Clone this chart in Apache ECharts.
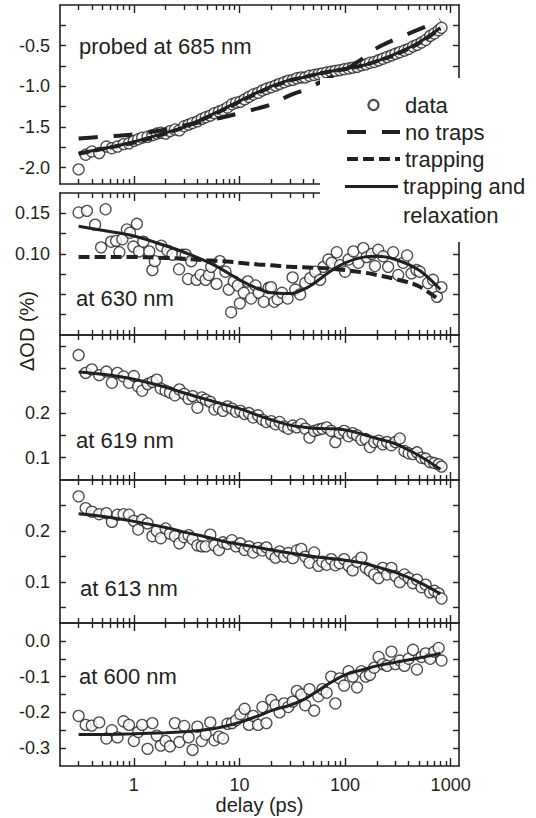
<!DOCTYPE html>
<html><head><meta charset="utf-8">
<script src="https://cdn.jsdelivr.net/npm/echarts@6/dist/echarts.min.js"></script>
<style>html,body{margin:0;padding:0;background:#fff}#c{width:536px;height:818px}</style>
</head><body><div id="c"></div>
<script>
// ---------- data ----------
const delays = [0.3,0.35,0.4,0.47,0.55,0.62,0.7,0.8,0.9,1.0,
1.1,1.2,1.35,1.5,1.65,1.8,2.0,2.2,2.45,2.7,
3.0,3.3,3.6,4.0,4.4,4.8,5.3,5.8,6.4,7.0,
7.7,8.5,9.3,10.2,11.2,12.3,13.5,15,16.5,18,
20,22,24,26.5,29,32,35,38.5,42,46,
51,56,61,67,74,81,89,98,108,118,
130,143,157,172,189,208,228,250,275,300,
330,365,400,440,480,530,580,640,700,770,820];

const od685 = [-2.02,-1.84,-1.80,-1.82,-1.74,-1.76,-1.74,-1.71,-1.70,-1.67,
-1.65,-1.63,-1.62,-1.60,-1.58,-1.57,-1.58,-1.55,-1.53,-1.54,
-1.49,-1.47,-1.45,-1.43,-1.40,-1.38,-1.36,-1.33,-1.31,-1.29,
-1.26,-1.22,-1.20,-1.19,-1.16,-1.13,-1.10,-1.08,-1.05,-1.03,
-1.01,-0.99,-0.97,-0.95,-0.93,-0.92,-0.90,-0.89,-0.89,-0.87,
-0.86,-0.85,-0.84,-0.83,-0.82,-0.81,-0.80,-0.79,-0.78,-0.77,
-0.76,-0.74,-0.73,-0.71,-0.70,-0.68,-0.66,-0.64,-0.62,-0.60,
-0.58,-0.56,-0.54,-0.51,-0.49,-0.46,-0.43,-0.38,-0.35,-0.31,-0.28];

const delays630 = [0.30,0.36,0.43,0.49,0.54,0.61,0.68,0.73,0.78,0.86,
0.92,0.99,1.07,1.12,1.23,1.40,1.50,1.58,1.82,2.08,
2.32,2.68,2.88,3.10,3.26,3.50,3.93,4.29,4.78,5.14,
5.40,6.07,6.52,7.38,7.93,8.35,8.84,9.65,10.1,11.0,
12.0,12.9,14.2,15.2,17.0,18.9,19.9,21.4,23.0,25.3,
28.6,31.9,33.8,37.6,42.0,46.8,52.1,58.1,62.5,69.6,
74.9,83.5,89.7,100,108,120,134,149,160,179,
192,206,230,256,286,319,355,387,426,475,
510,611,681,743,817];
const od630 = [0.151,0.153,0.136,0.108,0.155,0.115,0.116,0.102,0.118,0.130,
0.126,0.109,0.137,0.103,0.115,0.103,0.080,0.091,0.110,0.104,
0.099,0.081,0.099,0.099,0.069,0.091,0.068,0.074,0.068,0.074,
0.084,0.063,0.091,0.078,0.056,0.028,0.066,0.061,0.039,0.052,
0.066,0.045,0.061,0.052,0.041,0.058,0.059,0.041,0.044,0.052,
0.045,0.071,0.056,0.050,0.064,0.070,0.078,0.068,0.084,0.093,
0.089,0.102,0.086,0.078,0.093,0.103,0.089,0.107,0.096,0.100,
0.085,0.105,0.097,0.084,0.102,0.074,0.089,0.098,0.076,0.080,
0.078,0.064,0.068,0.047,0.059];

const od619 = [0.33,0.29,0.298,0.285,0.293,0.268,0.29,0.282,0.268,0.283,
0.26,0.25,0.265,0.27,0.275,0.255,0.25,0.246,0.24,0.253,
0.243,0.232,0.238,0.212,0.235,0.23,0.225,0.208,0.212,0.205,
0.215,0.21,0.203,0.205,0.198,0.2,0.19,0.195,0.185,0.18,
0.182,0.175,0.18,0.17,0.165,0.172,0.168,0.175,0.165,0.145,
0.16,0.163,0.165,0.168,0.16,0.135,0.155,0.16,0.148,0.155,
0.15,0.14,0.142,0.124,0.135,0.138,0.13,0.135,0.128,0.135,
0.143,0.115,0.11,0.108,0.112,0.1,0.098,0.09,0.088,0.085,0.08];

const od613 = [0.268,0.245,0.238,0.233,0.235,0.218,0.232,0.233,0.232,0.22,
0.203,0.222,0.215,0.19,0.2,0.186,0.205,0.195,0.19,0.176,
0.188,0.192,0.184,0.172,0.17,0.17,0.193,0.172,0.163,0.178,
0.175,0.182,0.17,0.176,0.163,0.17,0.158,0.167,0.162,0.168,
0.155,0.148,0.16,0.15,0.157,0.147,0.162,0.165,0.15,0.138,
0.158,0.132,0.14,0.134,0.145,0.133,0.137,0.145,0.132,0.123,
0.14,0.148,0.128,0.122,0.115,0.108,0.128,0.115,0.128,0.112,
0.1,0.115,0.108,0.098,0.105,0.09,0.095,0.08,0.083,0.078,0.068];

const od600 = [-0.21,-0.235,-0.237,-0.228,-0.273,-0.25,-0.27,-0.225,-0.235,-0.28,
-0.255,-0.235,-0.302,-0.23,-0.265,-0.293,-0.28,-0.295,-0.23,-0.283,
-0.238,-0.27,-0.305,-0.24,-0.28,-0.262,-0.228,-0.278,-0.268,-0.273,
-0.232,-0.23,-0.222,-0.205,-0.19,-0.235,-0.21,-0.235,-0.185,-0.23,
-0.165,-0.18,-0.2,-0.175,-0.185,-0.17,-0.14,-0.15,-0.18,-0.135,
-0.195,-0.155,-0.135,-0.145,-0.1,-0.175,-0.105,-0.125,-0.085,-0.1,
-0.13,-0.085,-0.1,-0.095,-0.075,-0.045,-0.065,-0.07,-0.03,-0.065,
-0.055,-0.07,-0.05,-0.025,-0.08,-0.045,-0.035,-0.05,-0.03,-0.02,-0.055];

const fitDelays = [0.3,0.5,1,2,3,5,7,10,15,20,30,40,50,70,100,150,200,300,500,800];
const noTraps685 = [-1.64,-1.62,-1.59,-1.53,-1.48,-1.42,-1.38,-1.33,-1.27,-1.22,-1.11,-1.05,-0.99,-0.90,-0.80,-0.65,-0.53,-0.42,-0.30,-0.19];
const trapping685 = [-1.83,-1.77,-1.69,-1.58,-1.50,-1.38,-1.29,-1.19,-1.08,-1.01,-0.93,-0.89,-0.86,-0.82,-0.79,-0.74,-0.69,-0.61,-0.47,-0.29];
const relax685 = [-1.82,-1.77,-1.68,-1.57,-1.50,-1.37,-1.28,-1.18,-1.07,-1.00,-0.92,-0.89,-0.86,-0.82,-0.78,-0.74,-0.69,-0.60,-0.46,-0.28];
const trapping630 = [0.096,0.096,0.096,0.095,0.094,0.092,0.091,0.089,0.087,0.086,0.084,0.0835,0.083,0.082,0.080,0.077,0.074,0.069,0.060,0.042];
const relax630 = [0.134,0.129,0.122,0.110,0.102,0.090,0.080,0.068,0.057,0.052,0.051,0.056,0.063,0.077,0.089,0.096,0.097,0.093,0.080,0.056];
const relax619 = [0.292,0.287,0.276,0.258,0.245,0.230,0.220,0.210,0.195,0.185,0.173,0.169,0.166,0.165,0.162,0.152,0.143,0.131,0.105,0.074];
const relax613 = [0.234,0.229,0.219,0.207,0.198,0.188,0.180,0.174,0.168,0.163,0.157,0.153,0.150,0.147,0.143,0.137,0.130,0.119,0.100,0.077];
const relax600 = [-0.262,-0.262,-0.260,-0.257,-0.254,-0.248,-0.240,-0.228,-0.210,-0.195,-0.180,-0.165,-0.148,-0.120,-0.095,-0.080,-0.070,-0.060,-0.048,-0.035];

const xMajorTicks = [1,10,100,1000];
const xMinorTicks = [0.3,0.4,0.5,0.6,0.7,0.8,0.9,2,3,4,5,6,7,8,9,20,30,40,50,60,70,80,90,200,300,400,500,600,700,800,900];

const yTicks685 = [-2.0,-1.75,-1.5,-1.25,-1.0,-0.75,-0.5,-0.25];
const yLabels685 = [-2.0,-1.5,-1.0,-0.5];
const yTicks630 = [0.025,0.05,0.075,0.1,0.125,0.15];
const yLabels630 = [0.10,0.15];
const yTicks619 = [0.1,0.15,0.2,0.25,0.3,0.35];
const yLabels619 = [0.1,0.2];
const yTicks613 = [0.05,0.1,0.15,0.2,0.25];
const yLabels613 = [0.1,0.2];
const yTicks600 = [-0.3,-0.25,-0.2,-0.15,-0.1,-0.05,0.0];
const yLabels600 = [-0.3,-0.2,-0.1,0.0];

const panelTexts = ['probed at 685 nm','at 630 nm','at 619 nm','at 613 nm','at 600 nm'];

// ---------- layout / style ----------
const FONT = '"Liberation Sans", Arial, Helvetica, sans-serif';
const INK = '#231f20';
const panels = [
  {top:5,   height:179, min:-2.2, max:0,     ticks:yTicks685, labels:yLabels685, dec:1, tx:79, ty:46},
  {top:193, height:142, min:0,    max:0.175, ticks:yTicks630, labels:yLabels630, dec:2, tx:76, ty:298},
  {top:335, height:145, min:0.05, max:0.375, ticks:yTicks619, labels:yLabels619, dec:1, tx:76, ty:440},
  {top:480, height:143, min:0.02, max:0.3,   ticks:yTicks613, labels:yLabels613, dec:1, tx:80, ty:588},
  {top:623, height:143, min:-0.35,max:0.05,  ticks:yTicks600, labels:yLabels600, dec:1, tx:79, ty:676}
];

const grid = [], xAxis = [], yAxis = [], series = [], graphic = [];
const lineW = 1.6;
panels.forEach((p, i) => {
  grid.push({left:60, width:399, top:p.top, height:p.height});
  const mk = (pos, major, showLabel) => ({
    type:'log', logBase:10, gridIndex:i, min:0.2, max:1200, position:pos,
    axisLine:{show:major, onZero:false, lineStyle:{color:INK, width:lineW}},
    axisTick:{show:true, inside:true, length: major ? 8 : 5, customValues: major ? xMajorTicks : xMinorTicks,
              lineStyle:{color:INK, width:1.4}},
    axisLabel:{show:showLabel, customValues:xMajorTicks, fontSize:18, fontFamily:FONT, color:INK, margin:10,
               formatter: v => String(Math.round(v))},
    splitLine:{show:false}, minorTick:{show:false},
    name: (showLabel ? 'delay (ps)' : ''), nameLocation:'middle', nameGap:28,
    nameTextStyle:{fontSize:20, fontFamily:FONT, color:INK}
  });
  xAxis.push(mk('bottom', true, i === 4));
  xAxis.push(mk('bottom', false, false));
  xAxis.push(mk('top', true, false));
  xAxis.push(mk('top', false, false));
  const mky = (pos, showLabel) => ({
    type:'value', gridIndex:i, min:p.min, max:p.max, position:pos,
    axisLine:{show:true, onZero:false, lineStyle:{color:INK, width:lineW}},
    axisTick:{show:true, inside:true, length:6, customValues:p.ticks, lineStyle:{color:INK, width:1.4}},
    axisLabel:{show:showLabel, customValues:p.labels, fontSize:18, fontFamily:FONT, color:INK, margin:10,
               formatter: v => Number(v).toFixed(p.dec)},
    splitLine:{show:false}
  });
  yAxis.push(mky('left', true));
  yAxis.push(mky('right', false));
  graphic.push({type:'text', x:p.tx, y:p.ty, z:5,
    style:{text:panelTexts[i], fontSize:22, fontFamily:FONT, fill:INK, verticalAlign:'middle'}});
});

const pts = (xs, ys) => xs.map((x, k) => [x, ys[k]]);
const scatterSeries = (i, xs, ys) => ({
  type:'scatter', name:'data', xAxisIndex:4*i, yAxisIndex:2*i, data:pts(xs, ys),
  symbol:'circle', symbolSize:11, z:2, silent:true,
  itemStyle:{color:'#fff', borderColor:INK, borderWidth:1.3}
});
const lineSeries = (i, name, ys, width, type) => ({
  type:'line', name, xAxisIndex:4*i, yAxisIndex:2*i, data:pts(fitDelays, ys),
  smooth:0.35, symbol:'none', showSymbol:false, z:3, silent:true,
  lineStyle:{color:INK, width, type},
  itemStyle:{color:INK}
});
const LONG = [19,16], SHORT = [11,5];

series.push(scatterSeries(0, delays, od685));
series.push(lineSeries(0, 'no traps', noTraps685, 4, LONG));
series.push(lineSeries(0, 'trapping', trapping685, 4, SHORT));
series.push(lineSeries(0, 'trapping and relaxation', relax685, 3, 'solid'));
series.push(scatterSeries(1, delays630, od630));
series.push(lineSeries(1, 'trapping', trapping630, 4, SHORT));
series.push(lineSeries(1, 'trapping and relaxation', relax630, 3, 'solid'));
series.push(scatterSeries(2, delays, od619));
series.push(lineSeries(2, 'trapping and relaxation', relax619, 3, 'solid'));
series.push(scatterSeries(3, delays, od613));
series.push(lineSeries(3, 'trapping and relaxation', relax613, 3, 'solid'));
series.push(scatterSeries(4, delays, od600));
series.push(lineSeries(4, 'trapping and relaxation', relax600, 3, 'solid'));

graphic.push({type:'text', x:27, y:331, rotation:Math.PI/2, z:5,
  style:{text:'ΔOD (%)', fontSize:20, fontFamily:FONT, fill:INK, align:'center', verticalAlign:'middle'}});

const hidden = {color:'rgba(0,0,0,0)', borderColor:'rgba(0,0,0,0)', borderWidth:0};
const legendText = {fontSize:22, fontFamily:FONT, color:INK, lineHeight:27};
const option = {
  animation:false,
  backgroundColor:'#fff',
  grid, xAxis, yAxis, series, graphic,
  legend:[
    {orient:'vertical', left:320, top:78, padding:[13.5,30,0,25], itemGap:0,
     itemWidth:53, itemHeight:10, backgroundColor:'#fff', selectedMode:false, z:10,
     textStyle:legendText,
     data:[
       {name:'data', icon:'circle', itemStyle:{color:'#fff', borderColor:INK, borderWidth:2.2}},
       {name:'no traps', itemStyle:hidden, lineStyle:{color:INK, width:4, type:LONG}},
       {name:'trapping', itemStyle:hidden, lineStyle:{color:INK, width:4, type:SHORT}}
     ]},
    {orient:'vertical', left:320, top:172, padding:[0,20,12,25], itemGap:0,
     itemWidth:53, itemHeight:58, backgroundColor:'#fff', selectedMode:false, z:10,
     textStyle:{fontSize:22, fontFamily:FONT, color:INK, lineHeight:29},
     formatter: n => n === 'trapping and relaxation' ? 'trapping and\nrelaxation' : n,
     data:[
       {name:'trapping and relaxation',
        icon:'path://M0 0L0.01 0L0 0.01Z M0 13L53 13L53 16L0 16Z M0 58L0.01 58L0 57.99Z',
        itemStyle:{color:INK, borderWidth:0}}
     ]}
  ]
};
const chart = echarts.init(document.getElementById('c'), null, {renderer:'svg'});
chart.setOption(option);
</script></body></html>
